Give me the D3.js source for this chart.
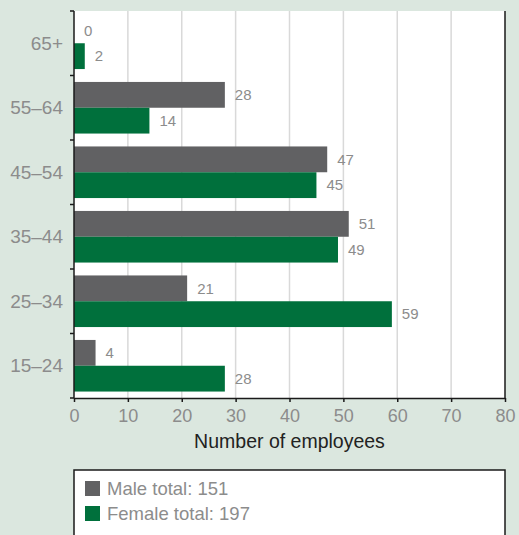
<!DOCTYPE html>
<html>
<head>
<meta charset="utf-8">
<script src="https://cdn.jsdelivr.net/npm/d3@7"></script>
<style>
  html, body { margin: 0; padding: 0; background: #dbe7df; }
  svg { display: block; font-family: "Liberation Sans", Arial, Helvetica, sans-serif; }
</style>
</head>
<body>
<svg id="chart" width="519" height="535"></svg>
<script>
// Employees by age band, split by gender
const ageGroups = ["65+", "55–64", "45–54", "35–44", "25–34", "15–24"];
const maleCounts = [0, 28, 47, 51, 21, 4];
const femaleCounts = [2, 14, 45, 49, 59, 28];
const xTicks = [0, 10, 20, 30, 40, 50, 60, 70, 80];
const seriesNames = ["Male", "Female"];
const legendLabels = ["Male total: 151", "Female total: 197"];

const colors = { Male: "#616163", Female: "#00703c" };
const labelGrey = "#8c8c8c";
const W = 519, H = 535;
const m = { left: 74, right: 14, top: 11, bottom: 137 };
const iw = W - m.left - m.right, ih = H - m.top - m.bottom;

const svg = d3.select("#chart");
const g = svg.append("g").attr("transform", `translate(${m.left},${m.top})`);

const x = d3.scaleLinear().domain([0, 80]).range([0, iw]);
const y = d3.scaleBand().domain(ageGroups).range([0, ih]).paddingInner(0.2).paddingOuter(0.1);
const ySub = d3.scaleBand().domain(seriesNames).range([0, y.bandwidth()]);

// plot background
g.append("rect").attr("width", iw).attr("height", ih).attr("fill", "#fff");

// vertical gridlines
g.selectAll("line.grid").data(xTicks.slice(1, -1)).join("line")
  .attr("class", "grid")
  .attr("x1", d => x(d)).attr("x2", d => x(d))
  .attr("y1", 0).attr("y2", ih)
  .attr("stroke", "#d9d9d9").attr("stroke-width", 1.5);

const rows = ageGroups.map((a, i) => ({ age: a, Male: maleCounts[i], Female: femaleCounts[i] }));

const groups = g.selectAll("g.row").data(rows).join("g")
  .attr("class", "row")
  .attr("transform", d => `translate(0,${y(d.age)})`);

seriesNames.forEach(s => {
  groups.append("rect")
    .attr("x", 0)
    .attr("y", ySub(s))
    .attr("width", d => x(d[s]))
    .attr("height", ySub.bandwidth())
    .attr("fill", colors[s]);
  groups.append("text")
    .attr("x", d => x(d[s]) + 10)
    .attr("y", ySub(s) + ySub.bandwidth() / 2)
    .attr("dy", "0.35em")
    .attr("font-size", 15)
    .attr("fill", labelGrey)
    .text(d => d[s]);
});

// right border
g.append("line").attr("x1", iw).attr("x2", iw).attr("y1", 0).attr("y2", ih)
  .attr("stroke", "#1a1a1a").attr("stroke-width", 1.5);

// y axis with boundary ticks between bands
const yAxisG = g.append("g");
yAxisG.append("line").attr("x1", 0).attr("x2", 0).attr("y1", 0).attr("y2", ih)
  .attr("stroke", "#1a1a1a").attr("stroke-width", 1.5);
const step = y.step();
const boundaries = d3.range(ageGroups.length + 1).map(i => y(ageGroups[0]) - y.paddingOuter() * step + i * step);
yAxisG.selectAll("line.tk").data(boundaries).join("line")
  .attr("class", "tk")
  .attr("x1", -4).attr("x2", 0)
  .attr("y1", d => Math.max(0, Math.min(ih, d))).attr("y2", d => Math.max(0, Math.min(ih, d)))
  .attr("stroke", "#1a1a1a").attr("stroke-width", 1.5);
yAxisG.selectAll("text").data(ageGroups).join("text")
  .attr("x", -11)
  .attr("y", d => y(d) + y.bandwidth() / 2)
  .attr("dy", "0.35em")
  .attr("text-anchor", "end")
  .attr("font-size", 19)
  .attr("fill", labelGrey)
  .text(d => d);

// x axis
const xAxis = d3.axisBottom(x).tickValues(xTicks).tickSize(4).tickSizeOuter(0).tickPadding(7);
const xg = g.append("g").attr("transform", `translate(0,${ih})`).call(xAxis);
xg.select(".domain").attr("stroke", "#1a1a1a").attr("stroke-width", 1.5);
xg.selectAll(".tick line").attr("stroke", "#1a1a1a").attr("stroke-width", 1.5);
xg.selectAll(".tick text").attr("font-size", 18).attr("fill", labelGrey)
  .attr("font-family", "\"Liberation Sans\", Arial, sans-serif");

g.append("text")
  .attr("x", iw / 2).attr("y", ih + 50)
  .attr("text-anchor", "middle")
  .attr("font-size", 19.5)
  .attr("fill", "#222")
  .text("Number of employees");

// legend
const lg = svg.append("g").attr("transform", `translate(${m.left},470)`);
lg.append("rect").attr("width", iw).attr("height", 80)
  .attr("fill", "#fff").attr("stroke", "#1a1a1a").attr("stroke-width", 1.5);
seriesNames.forEach((s, i) => {
  lg.append("rect").attr("x", 11).attr("y", 11 + i * 25).attr("width", 15).attr("height", 15)
    .attr("fill", colors[s]);
  lg.append("text").attr("x", 33).attr("y", 19 + i * 25).attr("dy", "0.35em")
    .attr("font-size", 18.5).attr("fill", labelGrey).text(legendLabels[i]);
});
</script>
</body>
</html>
